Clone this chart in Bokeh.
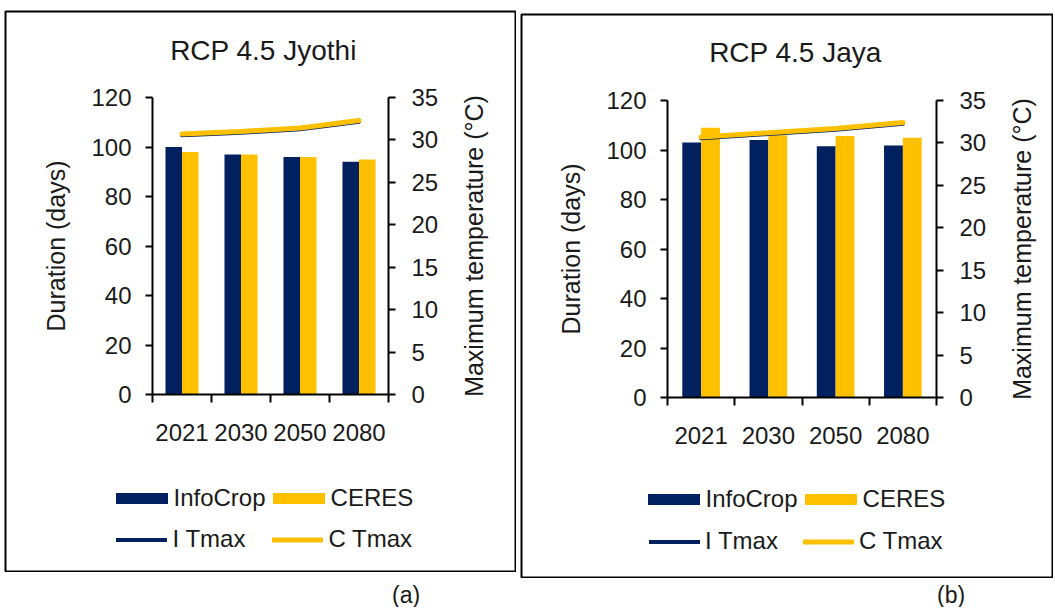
import math
from bokeh.plotting import figure
from bokeh.models import (Range1d, LinearAxis, FixedTicker, Label,
                          Legend, LegendItem, ColumnDataSource, Div)
from bokeh.transform import dodge
from bokeh.layouts import row, column
from bokeh.embed import file_html
from bokeh.resources import INLINE

# ---------------- data ----------------
years = ["2021", "2030", "2050", "2080"]

jyothi_infocrop = [100, 97, 96, 94]
jyothi_ceres = [98, 97, 96, 95]
jyothi_i_tmax = [30.55, 30.85, 31.25, 32.15]
jyothi_c_tmax = [30.7, 31.0, 31.4, 32.3]

jaya_infocrop = [103, 104, 101.5, 101.8]
jaya_ceres = [109, 106, 105.7, 105]
jaya_i_tmax = [30.55, 31.05, 31.55, 32.25]
jaya_c_tmax = [30.7, 31.2, 31.7, 32.4]

duration_ticks = [0, 20, 40, 60, 80, 100, 120]
temp_ticks = [0, 5, 10, 15, 20, 25, 30, 35]

NAVY = "#002060"
GOLD = "#FFC000"
TXT = "#1a1a1a"
FONT = "Liberation Sans"

# category centres / boundaries on a numeric axis (one unit per category)
n_cat = len(years)
centers = [i + 0.5 for i in range(n_cat)]
bounds = list(range(n_cat + 1))


def make_panel(title, infocrop, ceres, i_tmax, c_tmax, W, H,
               ax_left, ax_right, ax_top, ax_zero, title_xy, temp_label_x,
               leg1_x, leg1_sp, leg2_x, leg2_sd, leg2_sp, leg_y1, leg_y2):
    """All pixel arguments are relative to the panel's top-left corner."""
    fb = 1
    fx0, fx1, fy0, fy1 = fb, W - fb, fb, H - fb
    ymax, tmax = duration_ticks[-1], temp_ticks[-1]
    u = (ax_right - ax_left) / n_cat
    v = (ax_zero - ax_top) / ymax
    vt = (ax_zero - ax_top) / tmax
    xr = Range1d((fx0 - ax_left) / u, n_cat + (fx1 - ax_right) / u)
    yr = Range1d(-(fy1 - ax_zero) / v, ymax + (ax_top - fy0) / v)
    tr = Range1d(-(fy1 - ax_zero) / vt, tmax + (ax_top - fy0) / vt)

    p = figure(width=W, height=H, x_range=xr, y_range=yr, min_border=fb,
               x_axis_location=None, y_axis_location=None, title_location=None,
               toolbar_location=None, output_backend="svg")
    p.extra_y_ranges = {"temp": tr}
    p.grid.visible = False
    p.outline_line_color = "black"
    p.outline_line_width = 2
    p.background_fill_color = "white"
    p.border_fill_color = "white"

    # title
    p.add_layout(Label(x=title_xy[0] - fb, y=fy1 - title_xy[1], x_units="screen", y_units="screen",
                       text=title, text_align="center", text_baseline="middle",
                       text_font=FONT, text_font_size="28px", text_color=TXT))

    def style_y(ax, tick_standoff, label_standoff):
        ax.axis_line_width = 2
        ax.axis_line_color = "black"
        ax.major_tick_line_width = 2
        ax.major_tick_line_color = "black"
        ax.major_tick_out = 7
        ax.major_tick_in = 0
        ax.minor_tick_line_color = None
        ax.major_label_text_font = FONT
        ax.major_label_text_font_size = "24px"
        ax.major_label_text_color = TXT
        ax.major_label_standoff = tick_standoff
        ax.axis_label_text_font = FONT
        ax.axis_label_text_font_size = "25px"
        ax.axis_label_text_font_style = "normal"
        ax.axis_label_text_color = TXT
        ax.axis_label_standoff = label_standoff

    ya = LinearAxis(fixed_location=0, bounds=(0, ymax), ticker=FixedTicker(ticks=duration_ticks),
                    axis_label="Duration (days)")
    style_y(ya, 14, 18)
    p.add_layout(ya, "left")

    yt = LinearAxis(y_range_name="temp", fixed_location=n_cat, bounds=(0, tmax),
                    ticker=FixedTicker(ticks=temp_ticks))
    style_y(yt, 16, 0)
    p.add_layout(yt, "right")
    # secondary axis title, reading bottom-to-top like the primary one
    p.add_layout(Label(x=temp_label_x - fb, y=fy1 - (ax_top + ax_zero) / 2,
                       x_units="screen", y_units="screen", angle=math.pi / 2,
                       text="Maximum temperature (°C)", text_align="center",
                       text_baseline="middle", text_font=FONT, text_font_size="25px",
                       text_color=TXT))

    # x axis: ticks at category boundaries, labels at centres
    xt = LinearAxis(fixed_location=0, bounds=(0, n_cat), ticker=FixedTicker(ticks=bounds),
                    major_label_overrides={b: " " for b in bounds},
                    major_label_text_font_size="1px", major_label_standoff=0,
                    axis_line_width=2, axis_line_color="black",
                    major_tick_line_width=2, major_tick_line_color="black",
                    major_tick_out=8, major_tick_in=0, minor_tick_line_color=None)
    p.add_layout(xt, "below")
    xc = LinearAxis(fixed_location=0, bounds=(0, n_cat), ticker=FixedTicker(ticks=centers),
                    major_label_overrides={c: y for c, y in zip(centers, years)},
                    axis_line_color=None, major_tick_line_color=None,
                    major_tick_out=0, major_tick_in=0,
                    minor_tick_line_color=None,
                    major_label_text_font=FONT, major_label_text_font_size="24px",
                    major_label_text_color=TXT, major_label_standoff=29)
    p.add_layout(xc, "below")

    src = ColumnDataSource(dict(x=centers, year=years, infocrop=infocrop, ceres=ceres,
                                i_tmax=i_tmax, c_tmax=c_tmax))
    r1 = p.vbar(x=dodge("x", -0.14), top="infocrop", width=0.28,
                source=src, fill_color=NAVY, line_color=None)
    r2 = p.vbar(x=dodge("x", 0.14), top="ceres", width=0.28,
                source=src, fill_color=GOLD, line_color=None)
    r3 = p.line(x="x", y="i_tmax", source=src, y_range_name="temp",
                line_color=NAVY, line_width=4, line_cap="round")
    r4 = p.line(x="x", y="c_tmax", source=src, y_range_name="temp",
                line_color=GOLD, line_width=5, line_cap="round")

    def make_legend(items, x, y, gw, gh, standoff, spacing):
        lg = Legend(items=items, orientation="horizontal",
                    location=(float(x - fb), float(fy1 - y)))
        lg.label_text_font = FONT
        lg.label_text_font_size = "24px"
        lg.label_text_color = TXT
        lg.glyph_width = int(gw)
        lg.glyph_height = int(gh)
        lg.label_width = 92
        lg.label_height = 29
        lg.label_standoff = int(standoff)
        lg.spacing = int(spacing)
        lg.padding = 0
        lg.margin = 0
        lg.border_line_color = None
        lg.background_fill_alpha = 0
        return lg

    p.add_layout(make_legend([LegendItem(label="InfoCrop", renderers=[r1]),
                              LegendItem(label="CERES", renderers=[r2])],
                             leg1_x, leg_y1, 65, 14, 0, leg1_sp))
    p.add_layout(make_legend([LegendItem(label="I Tmax", renderers=[r3]),
                              LegendItem(label="C Tmax", renderers=[r4])],
                             leg2_x, leg_y2, 51, 11, leg2_sd, leg2_sp))
    return p


# left panel sits at page (4, 10); right panel at page (520, 13)
p1 = make_panel("RCP 4.5 Jyothi", jyothi_infocrop, jyothi_ceres, jyothi_i_tmax, jyothi_c_tmax,
                W=512, H=562, ax_left=148, ax_right=384, ax_top=87, ax_zero=384,
                title_xy=(259, 40), temp_label_x=469.5,
                leg1_x=104.5, leg1_sp=0, leg2_x=111.5, leg2_sd=6, leg2_sp=7,
                leg_y1=502, leg_y2=543.5)
p1.margin = (10, 0, 0, 4)

p2 = make_panel("RCP 4.5 Jaya", jaya_infocrop, jaya_ceres, jaya_i_tmax, jaya_c_tmax,
                W=533, H=565, ax_left=147, ax_right=416, ax_top=87, ax_zero=384,
                title_xy=(275, 39), temp_label_x=501,
                leg1_x=120.5, leg1_sp=0, leg2_x=129, leg2_sd=5, leg2_sp=6,
                leg_y1=500.5, leg_y2=542.5)
p2.margin = (13, 0, 0, 4)

div_style = {"font-family": FONT, "font-size": "23px", "line-height": "24px",
             "color": TXT, "overflow": "hidden"}
da = Div(text="(a)", width=40, height=24, margin=(11, 0, 0, 392), styles=div_style)
db = Div(text="(b)", width=40, height=24, margin=(5, 0, 0, 421), styles=div_style)

layout = row(column(p1, da), column(p2, db))

with open("out.html", "w") as f:
    f.write(file_html(layout, INLINE))
